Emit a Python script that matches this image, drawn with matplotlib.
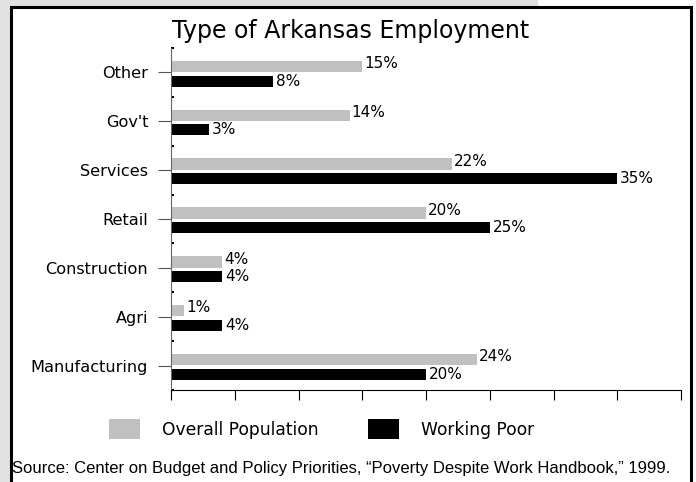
import matplotlib
matplotlib.use("Agg")
import matplotlib.pyplot as plt
from matplotlib.patches import Rectangle, Patch
import numpy as np

# Share of jobs by sector, bottom to top
categories = ["Manufacturing", "Agri", "Construction", "Retail", "Services", "Gov't", "Other"]
overall_pop = [24, 1, 4, 20, 22, 14, 15]
working_poor = [20, 4, 4, 25, 35, 3, 8]
series_names = ["Overall Population", "Working Poor"]

GRAY = "#c0c0c0"
BACK = "#e1e1e1"
W, H = 696, 482

plt.rcParams["font.family"] = "DejaVu Sans"

fig = plt.figure(figsize=(W / 100, H / 100), dpi=100, facecolor="white")

# page background strips and the framed box (kept behind the axes)
fig.patches.append(Rectangle((0, 1 - 7 / H), 538 / W, 7 / H, transform=fig.transFigure,
                             facecolor=BACK, edgecolor="none", zorder=-3))
fig.patches.append(Rectangle((0, 0), 11 / W, 1, transform=fig.transFigure,
                             facecolor=BACK, edgecolor="none", zorder=-3))
fig.patches.append(Rectangle((11 / W, -0.05), 680 / W, 1.05 - 7 / H, transform=fig.transFigure,
                             facecolor="white", edgecolor="black", linewidth=2.2, zorder=-2))

ax = fig.add_axes([171 / W, 1 - 390 / H, 510 / W, 342 / H])
ax.set_facecolor("none")
ax.set_zorder(2)

y = np.arange(len(categories))
ax.barh(y + 0.005, overall_pop, height=0.235, align="edge", color=GRAY, zorder=2)
ax.barh(y - 0.29, working_poor, height=0.225, align="edge", color="black", zorder=2)

for yi, v in zip(y, overall_pop):
    ax.annotate(f"{v}%", xy=(v, yi + 0.1225), xytext=(1.5, 2), textcoords="offset points",
                ha="left", va="center", fontsize=11)
for yi, v in zip(y, working_poor):
    ax.annotate(f"{v}%", xy=(v, yi - 0.1775), xytext=(2, 0), textcoords="offset points",
                ha="left", va="center", fontsize=11)

ax.set_xlim(0, 40)
ax.set_ylim(-0.5, len(categories) - 0.5)
ax.set_xticks(np.arange(0, 41, 5))
ax.set_xticklabels([])
ax.tick_params(axis="x", direction="out", length=7.2, width=0.8, color="black")

ax.set_yticks(y)
ax.set_yticklabels(categories, fontsize=11.6)
ax.set_yticks(np.arange(-0.5, len(categories), 1.0), minor=True)
ax.tick_params(axis="y", which="major", direction="out", length=9.4, width=0.8,
               color="#555555", pad=7)
ax.tick_params(axis="y", which="minor", direction="in", length=2, width=1.5, color="black")

for s in ["top", "right"]:
    ax.spines[s].set_visible(False)
ax.spines["left"].set_color("#666666")
ax.spines["left"].set_linewidth(0.8)
ax.spines["bottom"].set_color("black")
ax.spines["bottom"].set_linewidth(0.8)

fig.text(350.5 / W, 1 - 38 / H, "Type of Arkansas Employment", ha="center",
         va="baseline", fontsize=17)

handles = [Patch(facecolor=GRAY, edgecolor="none"), Patch(facecolor="black", edgecolor="none")]
fig.legend(handles, series_names, ncol=2, frameon=False, fontsize=12.3,
           loc="upper left", bbox_to_anchor=(109 / W, 1 - 419 / H),
           borderpad=0, borderaxespad=0, handlelength=1.81, handleheight=1.46,
           handletextpad=1.29, columnspacing=2.92)

fig.text(12 / W, 1 - 473 / H,
         "Source: Center on Budget and Policy Priorities, \u201cPoverty Despite Work Handbook,\u201d 1999.",
         ha="left", va="baseline", fontsize=12, family="Liberation Sans")

fig.savefig("out.png", dpi=100, facecolor=fig.get_facecolor())
